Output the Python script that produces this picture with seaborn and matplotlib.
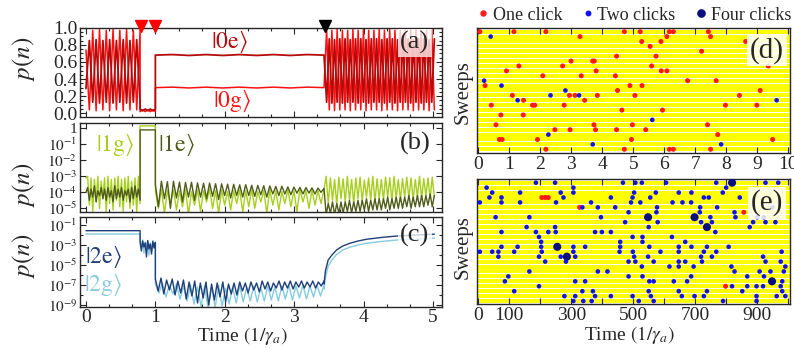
import numpy as np
import pandas as pd
import matplotlib
matplotlib.use("Agg")
import matplotlib.pyplot as plt
import seaborn as sns
from matplotlib.lines import Line2D
from matplotlib.ticker import FixedLocator, FixedFormatter, MultipleLocator, NullFormatter, NullLocator

sns.set_style("ticks")
plt.rcParams["font.family"] = ["Liberation Serif", "DejaVu Serif"]
plt.rcParams["mathtext.fontset"] = "stix"

# ---------------- timeline (units of 1/gamma_a) ----------------
T_START, T_OUT, T_BACK, T_PROBE, T_END = 0.0, 0.78, 1.0, 3.43, 5.02
marker_red_t = [0.80, 1.00]
marker_black_t = [3.44]

# ---------------- panel (a): |0e>, |0g> populations ----------------
a0e_start1, a0g_start1 = 0.29, 0.74
a0e_hi1 = [0.85, 0.86, 0.85, 0.86, 0.85, 0.86, 0.85, 0.86]
a0e_lo1 = [0.13, 0.12, 0.13, 0.12, 0.13, 0.12, 0.13, 0.13]
a0g_hi1 = [0.97, 0.98, 0.97, 0.98, 0.97, 0.98, 0.97, 0.97]
a0g_lo1 = [0.04, 0.03, 0.04, 0.03, 0.04, 0.03, 0.04, 0.04]
a0e_mid = [0.05, 0.03, 0.05, 0.03, 0.05, 0.03, 0.05]
a0g_mid = [0.02, 0.04, 0.02, 0.04, 0.02, 0.04, 0.02]
a0e_hold = [0.68, 0.686, 0.676, 0.686, 0.676, 0.686, 0.676, 0.686, 0.676, 0.686, 0.68]
a0g_hold = [0.30, 0.306, 0.296, 0.306, 0.296, 0.306, 0.296, 0.306, 0.296, 0.306, 0.30]
a0e_lo4 = [0.13, 0.12, 0.13, 0.12, 0.13, 0.13, 0.12, 0.13, 0.12, 0.13, 0.13,
           0.12, 0.13, 0.12, 0.13, 0.13, 0.12, 0.13, 0.12, 0.13, 0.13]
a0e_hi4 = [0.87, 0.86, 0.87, 0.87, 0.86, 0.87, 0.87, 0.86, 0.87, 0.87, 0.86,
           0.87, 0.87, 0.86, 0.87, 0.87, 0.86, 0.87, 0.87, 0.86, 0.87]
a0g_hi4 = [0.98, 0.97, 0.98, 0.97, 0.97, 0.98, 0.97, 0.98, 0.97, 0.97, 0.98,
           0.97, 0.98, 0.97, 0.97, 0.98, 0.97, 0.98, 0.97, 0.97, 0.98]
a0g_lo4 = [0.04, 0.03, 0.04, 0.04, 0.03, 0.04, 0.04, 0.03, 0.04, 0.04, 0.03,
           0.04, 0.04, 0.03, 0.04, 0.04, 0.03, 0.04, 0.04, 0.03, 0.04]

# ---------------- panel (b): |1g>, |1e> (log10 p) ----------------
b1g_start1, b1e_start1 = -3.1, -4.0
b1g_hi1 = [-3.0, -3.1, -3.2, -3.0, -3.3, -3.1, -3.0, -3.2, -3.1, -3.0, -3.2, -3.1, -3.0, -3.3, -3.1, -3.0]
b1g_lo1 = [-4.8, -5.2, -4.6, -5.0, -4.4, -5.3, -4.7, -5.1, -4.5, -4.9, -5.2, -4.6, -5.0, -4.8, -5.3, -4.7]
b1e_hi1 = [-3.7, -3.8, -3.6, -3.9, -3.7, -3.8, -3.7, -3.9, -3.6, -3.8, -3.7, -3.9, -3.8, -3.7, -3.6, -3.8]
b1e_lo1 = [-4.5, -4.3, -4.6, -4.2, -4.4, -4.5, -4.3, -4.6, -4.4, -4.3, -4.5, -4.2, -4.6, -4.4, -4.3, -4.5]
b1g_mid = [0.15, 0.15]
b1e_mid = [-0.10, -0.10]
b1g_start3, b1e_start3 = -3.9, -3.5
b1e_hi3 = [-3.30, -3.33, -3.31, -3.36, -3.38, -3.37, -3.41, -3.43, -3.42, -3.46, -3.47, -3.49, -3.50, -3.53,
           -3.52, -3.56, -3.57, -3.59, -3.60, -3.63, -3.62, -3.66, -3.67, -3.69, -3.70, -3.72, -3.73, -3.75]
b1e_lo3 = [-4.9, -4.4, -5.0, -4.35, -4.6, -4.3, -4.5, -4.3, -4.4, -4.25, -4.45, -4.2, -4.35, -4.2,
           -4.3, -4.2, -4.25, -4.15, -4.3, -4.1, -4.2, -4.1, -4.15, -4.05, -4.1, -4.05, -4.1, -4.0]
b1g_hi3 = [-3.8, -3.9, -3.85, -3.9, -3.8, -3.95, -3.85, -3.9, -3.8, -3.9, -3.85, -3.95, -3.9, -3.85,
           -3.9, -3.8, -3.95, -3.9, -3.85, -3.9, -3.95, -3.85, -3.9, -3.8, -3.9, -3.85, -3.9, -3.8]
b1g_lo3 = [-5.0, -5.3, -4.7, -5.1, -4.9, -5.4, -4.8, -5.2, -4.6, -5.0, -5.3, -4.8, -5.1, -4.7,
           -5.2, -4.9, -5.0, -4.6, -5.3, -4.8, -5.1, -4.7, -4.9, -5.2, -4.6, -5.0, -4.8, -4.7]
b1g_start4, b1e_start4 = -3.8, -3.75
b1g_hi4 = [-3.0, -3.1, -3.2, -3.05, -3.15, -3.0, -3.2, -3.1, -3.05, -3.25, -3.1, -3.0, -3.15,
           -3.2, -3.05, -3.1, -3.0, -3.2, -3.15, -3.05, -3.1, -3.2, -3.0, -3.15, -3.1, -3.05]
b1g_lo4 = [-4.7, -4.5, -4.8, -4.4, -4.6, -4.5, -4.7, -4.4, -4.6, -4.3, -4.5, -4.6, -4.4,
           -4.5, -4.3, -4.6, -4.4, -4.5, -4.3, -4.4, -4.5, -4.3, -4.4, -4.2, -4.4, -4.3]
b1e_hi4 = [-4.7, -4.6, -4.7, -4.6, -4.6, -4.5, -4.6, -4.5, -4.5, -4.4, -4.5, -4.4, -4.4,
           -4.4, -4.3, -4.4, -4.3, -4.3, -4.3, -4.2, -4.3, -4.2, -4.2, -4.2, -4.1, -4.2]
b1e_lo4 = [-5.4, -5.3, -5.4, -5.3, -5.3, -5.2, -5.3, -5.2, -5.2, -5.1, -5.2, -5.1, -5.1,
           -5.1, -5.0, -5.1, -5.0, -5.0, -5.0, -4.9, -5.0, -4.9, -4.9, -4.9, -4.8, -4.9]

# ---------------- panel (c): |2e>, |2g> (log10 p) ----------------
c2e_hold1 = [-1.57, -1.57]
c2g_hold1 = [-1.90, -1.90]
c2e_start2, c2g_start2 = -2.7, -2.6
c2e_hi2 = [-2.6, -2.8, -2.55, -2.9, -2.65, -2.75]
c2e_lo2 = [-3.6, -3.2, -4.2, -3.4, -3.9, -3.3]
c2g_hi2 = [-2.5, -2.7, -2.6, -2.8, -2.55, -2.7]
c2g_lo2 = [-3.3, -3.8, -3.1, -4.0, -3.5, -3.2]
c2e_start3, c2g_start3 = -6.4, -6.9
c2e_hi3 = [-6.3, -6.5, -6.4, -6.6, -6.5, -6.7, -6.6, -6.8, -6.7, -6.9, -6.8, -6.7, -6.9, -6.8, -6.7,
           -6.8, -6.7, -6.8, -6.6, -6.7, -6.8, -6.6, -6.7, -6.6, -6.7, -6.6, -6.7, -6.6, -6.7, -6.6]
c2e_lo3 = [-7.6, -7.9, -7.5, -8.0, -7.8, -8.4, -8.1, -8.8, -8.3, -9.0, -8.5, -8.2, -8.7, -7.9, -8.0,
           -7.6, -7.8, -7.5, -7.7, -7.4, -7.6, -7.3, -7.5, -7.3, -7.4, -7.2, -7.3, -7.2, -7.3, -7.1]
c2g_hi3 = [-6.8, -7.0, -6.9, -7.1, -7.0, -7.2, -7.1, -7.2, -7.1, -7.3, -7.2, -7.1,
           -7.2, -7.1, -7.2, -7.1, -7.2, -7.1, -7.0, -7.1, -7.0, -7.1, -7.0, -7.0]
c2g_lo3 = [-7.8, -8.2, -7.9, -8.4, -8.6, -8.9, -9.2, -9.3, -9.2, -9.1, -8.9, -8.8,
           -8.7, -8.6, -8.7, -8.6, -8.5, -8.6, -8.4, -8.5, -8.3, -8.4, -8.2, -8.1]
c_rise_t = [3.43, 3.45, 3.49, 3.55, 3.61, 3.70, 3.80, 3.92, 4.04, 4.25, 4.48, 4.75, 5.02]
c2e_rise = [-6.9, -5.6, -4.5, -3.95, -3.5, -3.1, -2.83, -2.6, -2.43, -2.25, -2.1, -2.0, -1.92]
c2g_rise = [-7.4, -6.3, -5.1, -4.45, -3.95, -3.5, -3.23, -3.0, -2.83, -2.65, -2.5, -2.4, -2.32]

# ---------------- panel (d): click record, short window ----------------
n_sweeps = 25
d_sweep = ([0] * 8 + [1] * 4 + [2] * 3 + [3] + [4] + [5] * 2 + [6] * 3 + [7] * 4 + [8] * 4 + [9] * 3 +
           [10] * 3 + [11] * 4 + [12] * 3 + [13] * 8 + [14] * 4 + [15] * 6 + [16] * 2 + [17] * 2 +
           [18] + [19] * 4 + [20] * 5 + [21] * 2 + [22] * 5 + [23] * 2 + [24] * 5)
d_time = [0.05, 1.15, 2.18, 4.71, 5.22, 6.16, 6.29, 7.42,
          0.40, 3.28, 6.08, 7.49,
          5.27, 5.89, 8.62,
          5.54,
          7.20,
          4.46, 5.73,
          2.99, 3.69, 3.74,
          1.31, 2.72, 5.59, 9.35,
          0.91, 3.80, 5.90, 6.08,
          2.08, 3.32, 4.42,
          0.19, 6.75, 7.67,
          0.22, 0.75, 4.89, 5.28,
          2.81, 4.49, 9.09,
          1.10, 2.33, 2.94, 3.12, 3.25, 3.84, 5.05, 8.42,
          1.27, 1.46, 3.43, 9.62,
          0.42, 1.75, 1.82, 2.77, 7.97, 8.98,
          4.63, 5.94,
          0.73, 1.45,
          5.61,
          0.57, 3.73, 4.97, 7.39,
          2.47, 2.96, 3.78, 4.46, 5.40,
          2.26, 7.72,
          0.68, 0.77, 1.91, 4.94, 9.49,
          3.69, 7.83,
          2.18, 4.71, 6.16, 6.29, 7.49]
d_clicks = [1, 1, 1, 1, 1, 1, 1, 1,
            2, 1, 1, 1,
            1, 1, 1,
            1,
            1,
            1, 1,
            1, 1, 1,
            1, 1, 1, 1,
            1, 1, 1, 1,
            1, 1, 1,
            2, 1, 1,
            1, 2, 1, 1,
            2, 1, 1,
            1, 2, 1, 1, 2, 1, 1, 1,
            2, 1, 1, 2,
            1, 1, 1, 1, 1, 1,
            1, 1,
            1, 1,
            2,
            1, 1, 1, 1,
            1, 1, 1, 1, 1,
            2, 1,
            1, 1, 1, 1, 1,
            2, 2,
            1, 1, 1, 1, 1]

# ---------------- panel (e): click record, long window ----------------
e_rows = {
    0: [186, 248, 467, 507, 528, 606, 768, 819, 927, 968],
    1: [27, 307, 800],
    2: [45, 135, 266, 307, 503, 573, 647, 688, 789],
    3: [36, 75, 205, 216, 226, 275, 428, 498, 555, 728, 744, 844],
    4: [5, 75, 135, 251, 364, 493, 523, 627, 659, 687],
    5: [327, 336, 386, 442, 577, 716, 771, 949],
    6: [485, 575, 715, 827, 857],
    7: [56, 165, 396, 548, 698, 749, 830, 900, 921],
    8: [474, 579, 719, 754, 887, 927, 959],
    9: [156, 248, 550, 738, 876],
    10: [75, 186, 226, 250, 377, 399, 428, 765],
    11: [196, 498, 530, 625],
    12: [203, 458, 530, 668],
    13: [75, 127, 203, 255, 307, 345, 458, 552, 647, 688, 738, 808],
    14: [5, 45, 65, 116, 205, 307, 456, 499, 588, 647, 728, 768, 979],
    15: [65, 196, 266, 286, 313, 503, 548, 719, 754, 919],
    16: [216, 283, 485, 507, 566, 647, 668, 722, 927, 976],
    17: [528, 617, 647, 695, 817, 991],
    18: [165, 386, 417, 827, 908, 943, 986],
    19: [97, 485, 530, 687, 868, 922],
    20: [86, 313, 345, 552, 566, 631, 674, 948, 981],
    21: [196, 798, 819, 868, 898, 919, 976],
    22: [116, 336, 370, 550, 647, 738, 852, 981],
    23: [278, 313, 377, 428, 498, 557, 657, 698, 728, 898, 963, 991],
    24: [307, 339, 366, 518, 566, 790, 898],
}
# clicks per event where it differs from two
e_single = [(3, 205), (3, 216), (3, 226), (5, 327), (6, 857), (21, 798)]
e_four = [(0, 819), (7, 548), (7, 698), (9, 738), (13, 255), (15, 286), (20, 948)]

# ---------------- styling ----------------
col_0e, col_0g = "#b40c0c", "#ff1010"
col_1g, col_1e = "#a6cf1c", "#505c1a"
col_2e, col_2g = "#1e3f78", "#86cbe2"
col_one, col_two, col_four = "#ff1a1a", "#1010f0", "#0a0f80"
stripe_col = "#ffff00"
TICK_FS = 14
LOG_FS = 11


def alt(first, second):
    """Interleave two equal-length sequences of turning-point values."""
    return list(np.column_stack([first, second]).ravel())


def trace(segments):
    """Concatenate (times, values) segments into one ordered trace."""
    ts, vs = [], []
    for t, v in segments:
        ts.extend(t)
        vs.extend(v)
    return np.asarray(ts), np.asarray(vs)


def seg(t0, t1, vals):
    return (np.linspace(t0, t1, len(vals)), vals)


def draw(ax, t, v, color, lw, z):
    sns.lineplot(x=t, y=v, ax=ax, color=color, lw=lw, estimator=None, sort=False,
                 zorder=z, legend=False)


fig = plt.figure(figsize=(7.94, 3.48), dpi=100)
W, H = 794.0, 348.0


def axes_px(x0, y0, x1, y1):
    return fig.add_axes([x0 / W, 1 - y1 / H, (x1 - x0) / W, (y1 - y0) / H])


ax_a = axes_px(80, 27.7, 442, 117.0)
ax_b = axes_px(80, 122.7, 442, 211.7)
ax_c = axes_px(80, 217.3, 442, 306.7)
ax_d = axes_px(476.7, 28.3, 790, 153.3)
ax_e = axes_px(476.7, 179.3, 790, 304.0)

# ---- (a)
t, v = trace([seg(T_START, T_OUT, [a0g_start1] + alt(a0g_lo1, a0g_hi1)),
              seg(T_OUT, T_BACK, a0g_mid),
              seg(T_BACK, T_PROBE, a0g_hold),
              seg(T_PROBE, T_END, [a0g_hold[-1]] + alt(a0g_hi4, a0g_lo4))])
draw(ax_a, t, v, col_0g, 1.1, 2)
t, v = trace([seg(T_START, T_OUT, [a0e_start1] + alt(a0e_hi1, a0e_lo1)),
              seg(T_OUT, T_BACK, a0e_mid),
              seg(T_BACK, T_PROBE, a0e_hold),
              seg(T_PROBE, T_END, [a0e_hold[-1]] + alt(a0e_lo4, a0e_hi4))])
draw(ax_a, t, v, col_0e, 1.3, 3)
ax_a.set_ylim(-0.043, 1.0)
ax_a.yaxis.set_major_locator(FixedLocator([0.0, 0.2, 0.4, 0.6, 0.8, 1.0]))
ax_a.yaxis.set_major_formatter(FixedFormatter(["0.0", "0.2", "0.4", "0.6", "0.8", "1.0"]))
ax_a.yaxis.set_minor_locator(MultipleLocator(0.05))
ax_a.plot(marker_red_t, [1.023] * len(marker_red_t), "v", color="#ff0000", ms=9, clip_on=False, zorder=6)
ax_a.plot(marker_black_t, [1.023], "v", color="black", ms=9, clip_on=False, zorder=6)
ax_a.text(2.07, 0.83, r"$|0\mathrm{e}\rangle$", color=col_0e, fontsize=17, ha="center", va="center")
ax_a.text(2.10, 0.15, r"$|0\mathrm{g}\rangle$", color=col_0g, fontsize=17, ha="center", va="center")
ax_a.text(0.925, 0.83, "(a)", transform=ax_a.transAxes, fontsize=19, ha="center", va="center",
          bbox=dict(facecolor="white", alpha=0.75, edgecolor="none", pad=1.5), zorder=8)

# ---- (b)
t, v = trace([seg(T_START, T_OUT, [b1g_start1] + alt(b1g_hi1, b1g_lo1)),
              seg(T_OUT, T_BACK, b1g_mid),
              seg(T_BACK, T_PROBE, [b1g_start3] + alt(b1g_lo3, b1g_hi3)),
              seg(T_PROBE, T_END, [b1g_start4] + alt(b1g_hi4, b1g_lo4))])
draw(ax_b, t, 10.0 ** v, col_1g, 1.0, 2)
t, v = trace([seg(T_START, T_OUT, [b1e_start1] + alt(b1e_hi1, b1e_lo1)),
              seg(T_OUT, T_BACK, b1e_mid),
              seg(T_BACK, T_PROBE, [b1e_start3] + alt(b1e_lo3, b1e_hi3)),
              seg(T_PROBE, T_END, [b1e_start4] + alt(b1e_lo4, b1e_hi4))])
draw(ax_b, t, 10.0 ** v, col_1e, 1.0, 3)
ax_b.set_yscale("log")
ax_b.set_ylim(10 ** -5.21, 10 ** 0.35)
b_ticks = [1, 1e-1, 1e-2, 1e-3, 1e-4, 1e-5]
ax_b.yaxis.set_major_locator(FixedLocator(b_ticks))
ax_b.yaxis.set_major_formatter(FixedFormatter(["1"] + [r"$10^{-%d}$" % k for k in range(1, 6)]))
ax_b.yaxis.set_minor_locator(NullLocator())
ax_b.text(0.42, 10 ** -1.05, r"$|1\mathrm{g}\rangle$", color=col_1g, fontsize=17, ha="center", va="center")
ax_b.text(1.30, 10 ** -1.05, r"$|1\mathrm{e}\rangle$", color=col_1e, fontsize=17, ha="center", va="center")
ax_b.text(0.925, 0.77, "(b)", transform=ax_b.transAxes, fontsize=19, ha="center", va="center", zorder=8)

# ---- (c)
t, v = trace([seg(T_START, T_OUT, c2g_hold1),
              seg(T_OUT, T_BACK, [c2g_start2] + alt(c2g_lo2, c2g_hi2)),
              seg(T_BACK, T_PROBE, [c2g_start3] + alt(c2g_lo3, c2g_hi3)),
              (c_rise_t, c2g_rise)])
draw(ax_c, t, 10.0 ** v, col_2g, 1.0, 2)
t, v = trace([seg(T_START, T_OUT, c2e_hold1),
              seg(T_OUT, T_BACK, [c2e_start2] + alt(c2e_lo2, c2e_hi2)),
              seg(T_BACK, T_PROBE, [c2e_start3] + alt(c2e_lo3, c2e_hi3)),
              (c_rise_t, c2e_rise)])
draw(ax_c, t, 10.0 ** v, col_2e, 1.0, 3)
ax_c.set_yscale("log")
ax_c.set_ylim(10 ** -9.17, 10 ** -0.23)
c_ticks = [1e-1, 1e-3, 1e-5, 1e-7, 1e-9]
ax_c.yaxis.set_major_locator(FixedLocator(c_ticks))
ax_c.yaxis.set_major_formatter(FixedFormatter([r"$10^{-%d}$" % k for k in (1, 3, 5, 7, 9)]))
ax_c.yaxis.set_minor_locator(FixedLocator([1e-2, 1e-4, 1e-6, 1e-8]))
ax_c.yaxis.set_minor_formatter(NullFormatter())
ax_c.text(0.25, 10 ** -4.17, r"$|2\mathrm{e}\rangle$", color=col_2e, fontsize=17, ha="center", va="center")
ax_c.text(0.25, 10 ** -7.0, r"$|2\mathrm{g}\rangle$", color=col_2g, fontsize=17, ha="center", va="center")
ax_c.text(0.925, 0.80, "(c)", transform=ax_c.transAxes, fontsize=19, ha="center", va="center",
          bbox=dict(facecolor="white", alpha=0.75, edgecolor="none", pad=1.5), zorder=8)
ax_c.set_xlabel(r"Time $(1/\gamma_a)$", fontsize=14)
ax_c.xaxis.set_label_coords(0.45, -0.205)
ax_c.xaxis.label.set_va("top")

for ax, ly in ((ax_a, 0.655), (ax_b, 0.30), (ax_c, 0.57)):
    ax.set_xlim(-0.086, 5.13)
    ax.xaxis.set_major_locator(MultipleLocator(1))
    ax.xaxis.set_minor_locator(MultipleLocator(1 / 3))
    ax.set_ylabel(r"$p(n)$", fontsize=18, labelpad=0)
    ax.yaxis.set_label_coords(-0.118, ly)
    ax.tick_params(which="both", direction="in", top=True, right=True, width=0.8)
    ax.tick_params(which="major", length=4, pad=2)
    ax.tick_params(which="minor", length=2)
    ax.tick_params(axis="y", labelsize=TICK_FS if ax is ax_a else LOG_FS)
    ax.tick_params(axis="x", labelsize=TICK_FS)
    for s in ax.spines.values():
        s.set_linewidth(1.0)
ax_a.tick_params(axis="x", labelbottom=False)
ax_b.tick_params(axis="x", labelbottom=False)

# ---- (d) and (e): sweep stripes with click events
d_df = pd.DataFrame({"time": d_time, "sweep": d_sweep, "clicks": d_clicks})
e_time, e_sweep, e_clicks = [], [], []
for r, xs in e_rows.items():
    for x in xs:
        e_time.append(x)
        e_sweep.append(r)
        e_clicks.append(1 if (r, x) in e_single else 4 if (r, x) in e_four else 2)
e_df = pd.DataFrame({"time": e_time, "sweep": e_sweep, "clicks": e_clicks})

click_color = {1: col_one, 2: col_two, 4: col_four}
click_size = {1: 13, 2: 11, 4: 34}

for ax, df, ylim in ((ax_d, d_df, (24.82, -0.69)), (ax_e, e_df, (24.6, -0.69))):
    for r in range(n_sweeps):
        ax.axhspan(r - 0.41, r + 0.41, color=stripe_col, lw=0, zorder=0)
    sns.scatterplot(data=df, x="time", y="sweep", hue="clicks", size="clicks",
                    palette=click_color, sizes=click_size, linewidth=0, legend=False,
                    ax=ax, zorder=3)
    ax.set_ylim(*ylim)
    ax.set_yticks([])
    ax.set_ylabel("Sweeps", fontsize=15, labelpad=0)
    ax.set_xlabel("")
    ax.tick_params(which="both", direction="in", top=True, width=0.8, length=4, pad=2,
                   labelsize=TICK_FS)
    for s in ax.spines.values():
        s.set_linewidth(1.0)

ax_d.set_xlim(-0.05, 10.05)
ax_d.xaxis.set_major_locator(MultipleLocator(1))
ax_d.yaxis.set_label_coords(-0.012, 0.49)
ax_d.text(0.926, 0.826, "(d)", transform=ax_d.transAxes, fontsize=21, ha="center", va="center",
          bbox=dict(facecolor="white", alpha=0.85, edgecolor="none", pad=2), zorder=8)

ax_e.set_xlim(-5, 1006)
e_ticks = list(range(0, 1001, 100))
ax_e.xaxis.set_major_locator(FixedLocator(e_ticks))
ax_e.xaxis.set_major_formatter(FixedFormatter([str(k) if k in (0, 100, 300, 500, 700, 900) else ""
                                               for k in e_ticks]))
ax_e.yaxis.set_label_coords(-0.012, 0.457)
ax_e.set_xlabel(r"Time $(1/\gamma_a)$", fontsize=14)
ax_e.xaxis.set_label_coords(0.486, -0.16)
ax_e.xaxis.label.set_va("top")
ax_e.text(0.926, 0.81, "(e)", transform=ax_e.transAxes, fontsize=21, ha="center", va="center",
          bbox=dict(facecolor="white", alpha=0.85, edgecolor="none", pad=2), zorder=8)

handles = [Line2D([], [], ls="", marker="o", ms=3.6, color=col_one, label="One click"),
           Line2D([], [], ls="", marker="o", ms=3.2, color=col_two, label="Two clicks"),
           Line2D([], [], ls="", marker="o", ms=5.2, color=col_four, label="Four clicks")]
ax_d.legend(handles=handles, loc="center", bbox_to_anchor=(0.5, 1.106), ncol=3, frameon=False,
            fontsize=13, handletextpad=0.15, columnspacing=1.0, handlelength=0.8, borderaxespad=0)

fig.savefig("out.png", dpi=100)
